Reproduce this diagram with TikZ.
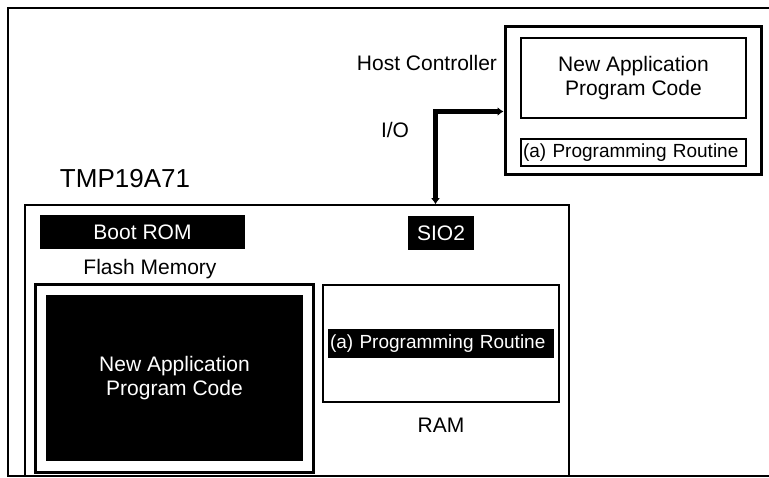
\documentclass[tikz,border=0pt]{standalone}
\usepackage{fontspec}
\setmainfont{Liberation Sans}
\usetikzlibrary{arrows.meta, positioning}

\begin{document}
\begin{tikzpicture}[
    x=1pt, y=-1pt,
    font=\fontsize{21}{24}\selectfont,
    thinbox/.style={draw, line width=1.5pt, inner sep=0pt},
    thickbox/.style={draw, line width=3pt, inner sep=0pt},
    blackbox/.style={fill=black, text=white, inner sep=0pt},
    routine/.style={font=\fontsize{19}{22}\selectfont, align=left, inner xsep=2pt, inner ysep=0pt},
    plaintext/.style={inner sep=0pt},
    iobus/.style={line width=4.5pt, line join=miter, {Latex[length=6pt,width=9pt]}-{Latex[length=6pt,width=9pt]}}
]
\useasboundingbox (0,0) rectangle (769,478);

% Outer frame
\draw[line width=2pt] (769,8) -- (8,8) -- (8,476) -- (769,476);

% Host controller
\node[plaintext] (hostname) at (427,63) {Host Controller};
\node[thickbox, minimum width=256pt, minimum height=148pt] (host) at (633,101) {};
\node[thinbox, minimum width=225pt, minimum height=80pt, align=center] (hostcode) at (633.5,78) {New Application\\Program Code};
\node[thinbox, routine, text width=221pt, minimum height=27pt] (hostroutine) at (633.5,152.5) {(a) Programming Routine};

% Chip
\node[plaintext, font=\fontsize{26}{30}\selectfont] (chipname) at (125,179) {TMP19A71};
\node[thinbox, minimum width=544pt, minimum height=271pt] (chip) at (297,340.5) {};
\node[blackbox, minimum width=205pt, minimum height=34pt] (bootrom) at (142.5,232) {Boot ROM};
\node[blackbox, minimum width=66pt, minimum height=34pt] (sio) at (441,233) {SIO2};

% Flash memory
\node[plaintext] (flashname) at (150,269) {Flash Memory};
\node[thickbox, minimum width=278pt, minimum height=187pt] (flash) at (174,378.5) {};
\node[blackbox, minimum width=257pt, minimum height=166pt, align=center] (flashcode) at (174.5,378) {New Application\\Program Code};

% RAM
\node[thinbox, minimum width=236pt, minimum height=117pt] (ram) at (441,343.5) {};
\node[blackbox, routine, text width=222pt, minimum height=29pt] (ramroutine) at (441,343.5) {(a) Programming Routine};
\node[plaintext] (ramname) at (441,425) {RAM};

% I/O connection
\coordinate (iocorner) at (435.5,111.5);
\node[plaintext] (ioname) at (395,130) {I/O};
\draw[iobus] (host.west |- iocorner) -- (iocorner) -- (iocorner |- chip.north);

\end{tikzpicture}
\end{document}
